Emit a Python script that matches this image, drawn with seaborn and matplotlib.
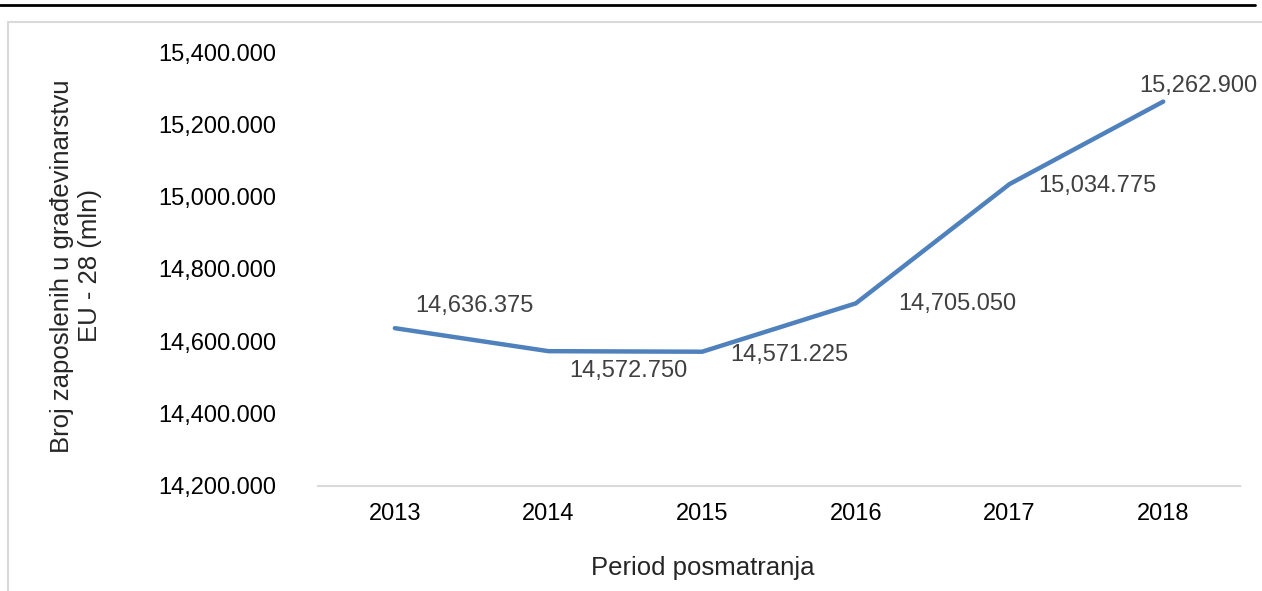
import matplotlib
matplotlib.use("Agg")
import matplotlib.pyplot as plt
import seaborn as sns
import pandas as pd
from matplotlib.patches import Rectangle
from matplotlib.lines import Line2D

# podaci (broj zaposlenih, u hiljadama)
godine = ["2013", "2014", "2015", "2016", "2017", "2018"]
zaposleni = [14636.375, 14572.750, 14571.225, 14705.050, 15034.775, 15262.900]
y_ticks = [14200, 14400, 14600, 14800, 15000, 15200, 15400]

# pomeraj oznaka u pikselima (dx, dy)
pomeraji = [(80, 22), (80, -20), (87, -3), (101, -1), (88, -2), (35, 16)]

sns.set_theme(style="white")
plt.rcParams["font.family"] = ["Liberation Sans", "DejaVu Sans"]

df = pd.DataFrame({"godina": godine, "zaposleni": zaposleni})

fig = plt.figure(figsize=(12.62, 5.91), dpi=100)
ax = fig.add_axes([0.252, 0.1777, 0.7306, 0.7343])

sns.lineplot(data=df, x="godina", y="zaposleni", color="#4F81BD",
             linewidth=3.2, solid_capstyle="round", ax=ax)

for i, (g, v) in enumerate(zip(godine, zaposleni)):
    dx, dy = pomeraji[i]
    ax.annotate(f"{v:,.3f}", xy=(i, v), xytext=(dx, dy), textcoords="offset pixels",
                ha="center", va="center", fontsize=17, color="#404040",
                annotation_clip=False)

ax.set_xlim(-0.5, 5.5)
ax.set_ylim(14200, 15400)
ax.set_yticks(y_ticks)
ax.set_yticklabels([f"{t:,.3f}" for t in y_ticks])
ax.tick_params(axis="both", length=0, labelsize=17, labelcolor="black")
ax.tick_params(axis="y", pad=30)
ax.tick_params(axis="x", pad=12)

for s in ["top", "right", "left"]:
    ax.spines[s].set_visible(False)
ax.spines["bottom"].set_color("#D9D9D9")
ax.spines["bottom"].set_linewidth(1.5)

ax.set_xlabel("Period posmatranja", fontsize=18.5)
ax.xaxis.set_label_coords(0.4176, -0.161)
ax.set_ylabel("Broj zaposlenih u građevinarstvu\nEU - 28 (mln)", fontsize=18.5,
              linespacing=1.2)
ax.yaxis.set_label_coords(-0.234, 0.507)

# okvir i gornja linija
fig.patches.append(Rectangle((8 / 1262, -0.05), 1.1, 1 - 22 / 591 + 0.05,
                             transform=fig.transFigure, fill=False,
                             edgecolor="#D9D9D9", linewidth=1.5))
fig.lines.append(Line2D([0, 1255 / 1262], [1 - 5 / 591, 1 - 5 / 591],
                        transform=fig.transFigure, color="black", linewidth=2))

fig.savefig("out.png", dpi=100)
